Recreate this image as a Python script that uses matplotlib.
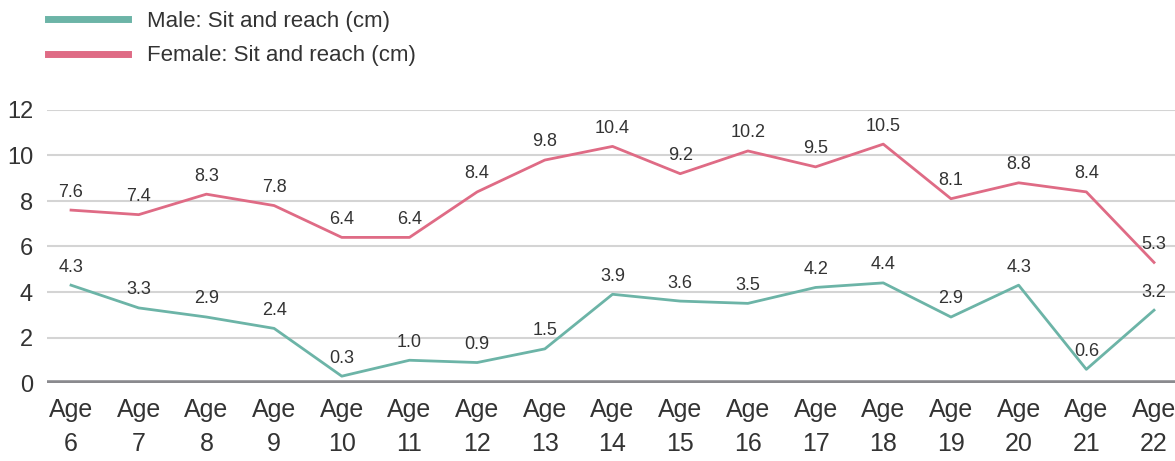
import matplotlib.pyplot as plt
from matplotlib.lines import Line2D

# Sit and reach, by age
ages = [6, 7, 8, 9, 10, 11, 12, 13, 14, 15, 16, 17, 18, 19, 20, 21, 22]
male = [4.3, 3.3, 2.9, 2.4, 0.3, 1.0, 0.9, 1.5, 3.9, 3.6, 3.5, 4.2, 4.4, 2.9, 4.3, 0.6, 3.2]
female = [7.6, 7.4, 8.3, 7.8, 6.4, 6.4, 8.4, 9.8, 10.4, 9.2, 10.2, 9.5, 10.5, 8.1, 8.8, 8.4, 5.3]
xlabels = [f"Age\n{a}" for a in ages]
yticks = [0, 2, 4, 6, 8, 10, 12]

male_col = "#6cb4a7"
female_col = "#df6b85"
txt_col = "#333333"
sans = ["Liberation Sans", "DejaVu Sans"]

fig = plt.figure(figsize=(11.75, 4.61), dpi=100)
ax = fig.add_axes([47 / 1175, 1 - 383 / 461, (1175 - 47) / 1175, (383 - 110) / 461])

ax.plot(ages, male, color=male_col, lw=2, zorder=3)
ax.plot(ages, female, color=female_col, lw=2, zorder=3)

for x, m, f in zip(ages, male, female):
    ax.annotate(f"{m:.1f}", (x, m), xytext=(0, 13), textcoords="offset points",
                ha="center", va="center", fontsize=13, color=txt_col, family=sans)
    ax.annotate(f"{f:.1f}", (x, f), xytext=(0, 13), textcoords="offset points",
                ha="center", va="center", fontsize=13, color=txt_col, family=sans)

ax.set_xlim(5.645, 22.31)
ax.set_ylim(0, 12)
ax.set_yticks(yticks)
ax.set_yticklabels([str(v) for v in yticks], fontsize=17, color=txt_col, family=sans)
ax.set_xticks(ages)
ax.set_xticklabels(xlabels, fontsize=18, color=txt_col, family=sans, linespacing=1.5)
ax.tick_params(axis="both", length=0)
ax.tick_params(axis="y", pad=10)
ax.tick_params(axis="x", pad=11)

ax.grid(axis="y", color="#d4d4d4", lw=1.5, zorder=0)
ax.axhline(0, color="#8a8a8e", lw=4, zorder=2)
for s in ax.spines.values():
    s.set_visible(False)

handles = [Line2D([], [], color=male_col, lw=5),
           Line2D([], [], color=female_col, lw=5)]
fig.legend(handles, ["Male: Sit and reach (cm)", "Female: Sit and reach (cm)"],
           loc="upper left", bbox_to_anchor=(37 / 1175, 1.0), frameon=False,
           prop={"family": sans, "size": 16}, labelcolor=txt_col,
           handlelength=3.6, handletextpad=0.85, labelspacing=0.6, borderaxespad=0.1)

fig.savefig("out.png", dpi=100)
